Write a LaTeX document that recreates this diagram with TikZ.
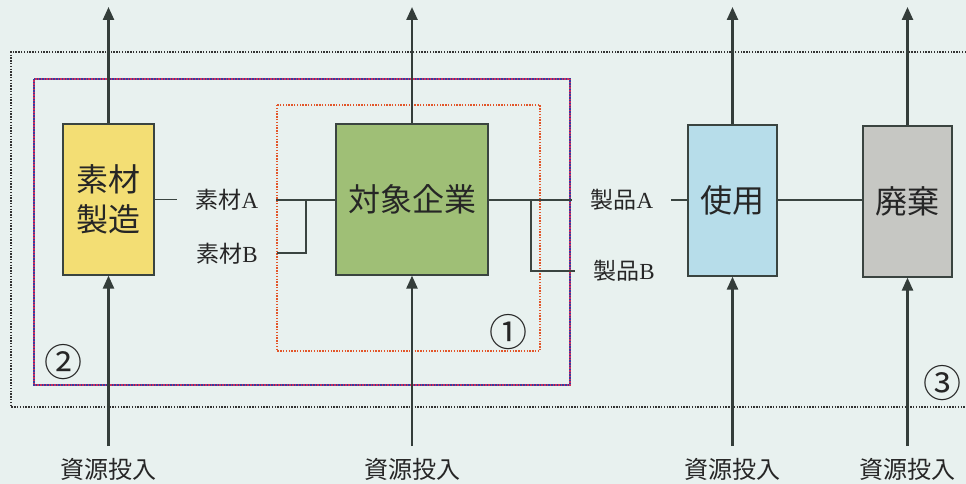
\documentclass[tikz,border=0pt]{standalone}
\usepackage{fontspec}
\setmainfont{Liberation Serif}
\newfontfamily\jp{Noto Sans CJK JP}
\usetikzlibrary{arrows.meta}
\definecolor{bg}{HTML}{E8F1EF}
\definecolor{edge}{HTML}{3A4440}
\definecolor{cyel}{HTML}{F3DE74}
\definecolor{cgrn}{HTML}{9FBF76}
\definecolor{cblu}{HTML}{B7DDEA}
\definecolor{cgry}{HTML}{C6C7C3}
\definecolor{dotblue}{HTML}{3A3CA0}
\definecolor{dotred}{HTML}{C83060}
\definecolor{dotorange}{HTML}{E2562A}
\tikzset{
  procbox/.style={draw=edge, line width=1.2pt, inner sep=0pt, align=center,
    font=\jp\fontsize{32}{40}\selectfont, text=black!85},
  lbl/.style={inner sep=0pt, font=\fontsize{23}{26}\selectfont, text=black!85},
  inlbl/.style={inner sep=0pt, font=\jp\fontsize{24}{26}\selectfont, text=black!85},
  circ/.style={inner sep=0pt, font=\jp\fontsize{38}{40}\selectfont, text=black!85},
  conn/.style={draw=edge, line width=1.1pt},
  dotline/.style={line width=2pt, dash pattern=on 1.4pt off 1.4pt},
  flow/.style={draw=edge!90!black, line width=2.4pt, -{Triangle[length=13pt,width=11pt]}},
}
\begin{document}
\begin{tikzpicture}[x=1pt,y=-1pt]
\useasboundingbox (0,0) rectangle (966,484);
\fill[bg] (0,0) rectangle (966,484);

% boundary boxes
\draw[black!80, dotline]
  (966,52) -- (11,52) -- (11,407) -- (966,407);
\draw[dotblue, dotline]
  (34,79) rectangle (570,385);
\draw[dotred, dotline, dash phase=1.4pt]
  (34,79) rectangle (570,385);
\draw[dotorange, dotline]
  (277,105) rectangle (540,351);

% process boxes
\node[procbox, fill=cyel, minimum width=91pt, minimum height=151pt] (s) at (108.5,199.5) {素材\\製造};
\node[procbox, fill=cgrn, minimum width=152pt, minimum height=151pt] (t) at (412,199.5) {対象企業};
\node[procbox, fill=cblu, minimum width=89pt, minimum height=151pt] (u) at (732.5,200.5) {使用};
\node[procbox, fill=cgry, minimum width=89pt, minimum height=151pt] (w) at (907.5,201.5) {廃棄};

% labels
\node[lbl] (mA) at (227,200) {{\jp 素材}A};
\node[lbl] (mB) at (227,254) {{\jp 素材}B};
\node[lbl] (pA) at (622,200) {{\jp 製品}A};
\node[lbl] (pB) at (624,271) {{\jp 製品}B};

% connectors
\coordinate (sR) at (177,199.5);
\coordinate (jL) at (276,200);
\coordinate (jV) at (306,200);
\coordinate (jB) at (306,253);
\coordinate (jBe) at (277,253);
\draw[conn] (s.east) -- (sR);
\draw[conn] (jL) -- (t.west |- jL);
\draw[conn] (jV) -- (jB) -- (jBe);

\coordinate (tR) at (572,200);
\coordinate (tV) at (531,200);
\coordinate (tB) at (531,271);
\coordinate (tBe) at (575,271);
\coordinate (uL) at (671,200);
\draw[conn] (t.east |- tR) -- (tR);
\draw[conn] (tV) -- (tB) -- (tBe);
\draw[conn] (uL) -- (u.west |- uL);
\draw[conn] (u.east |- uL) -- (w.west |- uL);

% outputs (top)
\foreach \n/\x in {s/108.5, t/412, u/732.5, w/907.5}{
  \coordinate (\n top) at (\x,7);
  \draw[flow] (\n.north) -- (\n top);
}
% inputs (bottom)
\foreach \n/\x in {s/108.5, t/412, u/732.5, w/907.5}{
  \coordinate (\n bot) at (\x,446);
  \draw[flow] (\n bot) -- (\n.south);
  \node[inlbl] (\n in) at (\x,469) {資源投入};
}

% circled numbers
\node[circ] (c1) at (508,332) {①};
\node[circ] (c2) at (63,362) {②};
\node[circ] (c3) at (942,383) {③};
\end{tikzpicture}
\end{document}
